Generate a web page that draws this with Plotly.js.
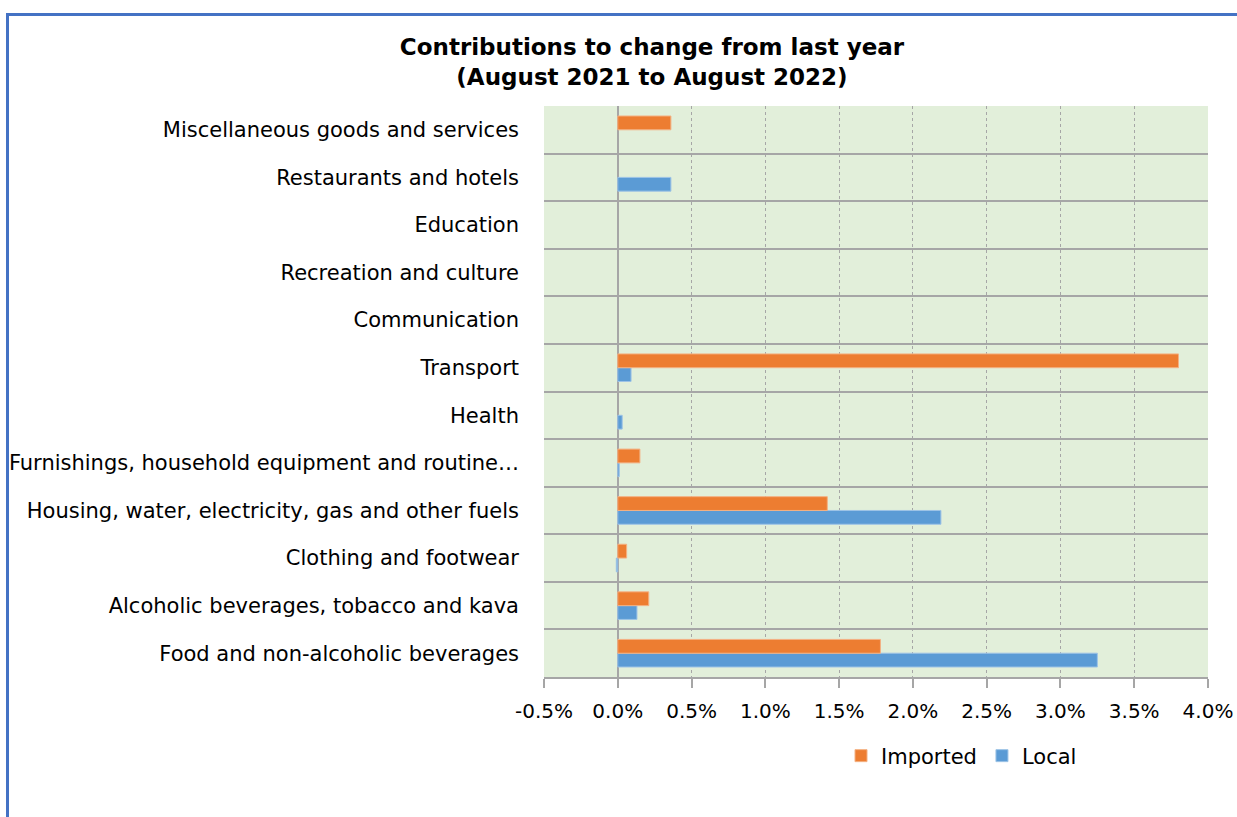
<!DOCTYPE html>
<html>
<head>
<meta charset="utf-8">
<script src="https://cdn.plot.ly/plotly-3.0.1.min.js"></script>
<style>
  html, body { margin: 0; padding: 0; background: #ffffff; }
  #frame { position: absolute; left: 6px; top: 13px; width: 1300px; height: 900px;
           border-left: 3px solid #4472C4; border-top: 3px solid #4472C4; box-sizing: border-box; }
  #chart { position: absolute; left: 0; top: 0; width: 1237px; height: 817px; }
</style>
</head>
<body>
<div id="frame"></div>
<div id="chart"></div>
<script>
const categories = [
  "Food and non-alcoholic beverages",
  "Alcoholic beverages, tobacco and kava",
  "Clothing and footwear",
  "Housing, water, electricity, gas and other fuels",
  "Furnishings, household equipment and routine…",
  "Health",
  "Transport",
  "Communication",
  "Recreation and culture",
  "Education",
  "Restaurants and hotels",
  "Miscellaneous goods and services"
];
const localValues =    [3.25, 0.13, -0.01, 2.19, 0.01, 0.03, 0.09, null, null, null, 0.36, null];
const importedValues = [1.78, 0.21, 0.06, 1.42, 0.15, null, 3.80, null, null, null, null, 0.36];
const tickValues = [-0.5, 0, 0.5, 1.0, 1.5, 2.0, 2.5, 3.0, 3.5, 4.0];
const tickLabels = ["-0.5%", "0.0%", "0.5%", "1.0%", "1.5%", "2.0%", "2.5%", "3.0%", "3.5%", "4.0%"];

const FONT = "'DejaVu Sans', sans-serif";

const traces = [
  {
    type: "bar", orientation: "h", name: "Local",
    y: categories, x: localValues,
    marker: { color: "#5B9BD5", line: { color: "#9DC3E6", width: 1 } },
    hoverinfo: "x+y"
  },
  {
    type: "bar", orientation: "h", name: "Imported",
    y: categories, x: importedValues,
    marker: { color: "#ED7D31", line: { color: "#F4B183", width: 1 } },
    hoverinfo: "x+y"
  }
];

const layout = {
  width: 1237, height: 817,
  paper_bgcolor: "rgba(0,0,0,0)",
  plot_bgcolor: "#E2EFDA",
  margin: { l: 544, r: 29, t: 106, b: 140 },
  barmode: "group",
  bargap: 0.42,
  bargroupgap: 0,
  font: { family: FONT, size: 21, color: "#000000" },
  title: {
    text: "<b>Contributions to change from last year<br>(August 2021 to August 2022)</b>",
    font: { family: FONT, size: 23, color: "#000000" },
    x: 652 / 1237, xref: "container", xanchor: "center",
    y: 1 - 55 / 817, yref: "container", yanchor: "top"
  },
  xaxis: {
    range: [-0.5, 4.0],
    tickvals: tickValues, ticktext: tickLabels,
    showgrid: true, gridcolor: "#A6A6A6", griddash: "dot", gridwidth: 1,
    zeroline: true, zerolinecolor: "#A6A6A6", zerolinewidth: 2,
    showline: true, linecolor: "#A6A6A6", linewidth: 2,
    ticks: "outside", ticklen: 9, tickcolor: "#A6A6A6", tickwidth: 2,
    ticklabelstandoff: 6,
    tickfont: { family: FONT, size: 20, color: "#000000" },
    fixedrange: true
  },
  yaxis: {
    type: "category",
    tickson: "boundaries",
    showgrid: true, gridcolor: "#A6A6A6", gridwidth: 2,
    ticks: "", ticklabelstandoff: 24,
    tickfont: { family: FONT, size: 21, color: "#000000" },
    fixedrange: true
  },
  showlegend: true,
  legend: {
    orientation: "h", traceorder: "reversed",
    x: (841 - 544) / 664, xanchor: "left",
    y: (677 - 756) / 571, yanchor: "middle",
    font: { family: FONT, size: 21, color: "#000000" },
    bgcolor: "rgba(0,0,0,0)"
  }
};

Plotly.newPlot("chart", traces, layout, { displayModeBar: false, staticPlot: true });
</script>
</body>
</html>
